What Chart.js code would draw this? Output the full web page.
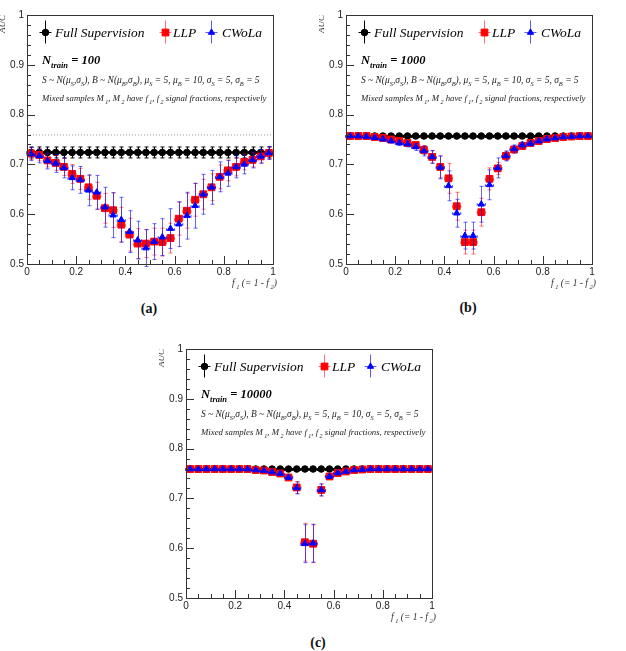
<!DOCTYPE html>
<html>
<head>
<meta charset="utf-8">
<script src="https://cdn.jsdelivr.net/npm/chart.js@4.4.0/dist/chart.umd.min.js"></script>
<style>
  body { margin: 0; background: #fff; }
  #page { position: relative; width: 626px; height: 651px; overflow: hidden; }
  .panel { position: absolute; width: 300px; height: 300px; }
  .cap { position: absolute; width: 60px; text-align: center; line-height: 16px;
         font: bold 14px 'Liberation Serif', 'DejaVu Serif', serif; color: #111; }
</style>
</head>
<body>
<div id="page">
  <div class="panel" style="left:0px;top:0px"><canvas id="chartA" width="300" height="300"></canvas></div>
  <div class="panel" style="left:319px;top:0px"><canvas id="chartB" width="300" height="300"></canvas></div>
  <div class="panel" style="left:159px;top:334px"><canvas id="chartC" width="300" height="300"></canvas></div>
  <div class="cap" style="left:119px;top:301px">(a)</div>
  <div class="cap" style="left:438px;top:300px">(b)</div>
  <div class="cap" style="left:288px;top:635px">(c)</div>
</div>
<script>
// f1 bin centres (30 bins)
const fCenters = [0.0167, 0.05, 0.0833, 0.1167, 0.15, 0.1833, 0.2167, 0.25, 0.2833, 0.3167,
  0.35, 0.3833, 0.4167, 0.45, 0.4833, 0.5167, 0.55, 0.5833, 0.6167, 0.65,
  0.6833, 0.7167, 0.75, 0.7833, 0.8167, 0.85, 0.8833, 0.9167, 0.95, 0.9833];
const binHalf = 0.0167;
const xTicks = [0, 0.2, 0.4, 0.6, 0.8, 1];
const yTicks = [0.5, 0.6, 0.7, 0.8, 0.9, 1];
const refX = [0, 1];
const refAuc = 0.759;

// (a) N_train = 100
const fullA = [0.724, 0.724, 0.724, 0.724, 0.724, 0.724, 0.724, 0.724, 0.724, 0.724,
  0.724, 0.724, 0.724, 0.724, 0.724, 0.724, 0.724, 0.724, 0.724, 0.724,
  0.724, 0.724, 0.724, 0.724, 0.724, 0.724, 0.724, 0.724, 0.724, 0.724];
const fullErrA = [0.011, 0.011, 0.011, 0.011, 0.011, 0.011, 0.011, 0.011, 0.011, 0.011,
  0.011, 0.011, 0.011, 0.011, 0.011, 0.011, 0.011, 0.011, 0.011, 0.011,
  0.011, 0.011, 0.011, 0.011, 0.011, 0.011, 0.011, 0.011, 0.011, 0.011];
const llpA = [0.722, 0.719, 0.708, 0.703, 0.695, 0.681, 0.671, 0.654, 0.637, 0.612,
  0.608, 0.579, 0.559, 0.541, 0.541, 0.545, 0.544, 0.552, 0.591, 0.607,
  0.629, 0.640, 0.654, 0.675, 0.688, 0.695, 0.705, 0.709, 0.716, 0.723];
const llpErrA = [0.012, 0.012, 0.013, 0.015, 0.017, 0.019, 0.021, 0.024, 0.027, 0.030,
  0.035, 0.035, 0.033, 0.030, 0.028, 0.027, 0.028, 0.030, 0.033, 0.035,
  0.033, 0.030, 0.027, 0.024, 0.021, 0.018, 0.016, 0.014, 0.012, 0.012];
const cwolaA = [0.721, 0.717, 0.707, 0.702, 0.693, 0.673, 0.669, 0.648, 0.644, 0.614,
  0.598, 0.589, 0.565, 0.548, 0.532, 0.545, 0.554, 0.571, 0.580, 0.597,
  0.617, 0.640, 0.654, 0.675, 0.682, 0.695, 0.700, 0.709, 0.716, 0.723];
const cwolaErrA = [0.013, 0.014, 0.016, 0.018, 0.020, 0.024, 0.027, 0.031, 0.034, 0.040,
  0.045, 0.045, 0.042, 0.038, 0.037, 0.036, 0.037, 0.040, 0.045, 0.047,
  0.045, 0.040, 0.034, 0.030, 0.026, 0.022, 0.019, 0.016, 0.014, 0.013];

// (b) N_train = 1000
const fullB = [0.757, 0.757, 0.757, 0.757, 0.757, 0.757, 0.757, 0.757, 0.757, 0.757,
  0.757, 0.757, 0.757, 0.757, 0.757, 0.757, 0.757, 0.757, 0.757, 0.757,
  0.757, 0.757, 0.757, 0.757, 0.757, 0.757, 0.757, 0.757, 0.757, 0.757];
const fullErrB = [0.002, 0.002, 0.002, 0.002, 0.002, 0.002, 0.002, 0.002, 0.002, 0.002,
  0.002, 0.002, 0.002, 0.002, 0.002, 0.002, 0.002, 0.002, 0.002, 0.002,
  0.002, 0.002, 0.002, 0.002, 0.002, 0.002, 0.002, 0.002, 0.002, 0.002];
const llpB = [0.757, 0.757, 0.757, 0.755, 0.753, 0.750, 0.747, 0.743, 0.739, 0.729,
  0.715, 0.695, 0.672, 0.616, 0.544, 0.544, 0.604, 0.671, 0.692, 0.717,
  0.730, 0.737, 0.743, 0.747, 0.751, 0.753, 0.755, 0.756, 0.757, 0.757];
const llpErrB = [0.002, 0.002, 0.002, 0.003, 0.003, 0.004, 0.004, 0.005, 0.006, 0.009,
  0.012, 0.022, 0.030, 0.028, 0.024, 0.024, 0.028, 0.022, 0.012, 0.009,
  0.007, 0.006, 0.005, 0.004, 0.004, 0.003, 0.003, 0.002, 0.002, 0.002];
const cwolaB = [0.757, 0.757, 0.756, 0.754, 0.751, 0.747, 0.743, 0.741, 0.735, 0.727,
  0.715, 0.694, 0.657, 0.602, 0.557, 0.557, 0.620, 0.659, 0.693, 0.717,
  0.731, 0.739, 0.742, 0.747, 0.751, 0.753, 0.755, 0.756, 0.757, 0.757];
const cwolaErrB = [0.002, 0.002, 0.003, 0.003, 0.004, 0.004, 0.005, 0.006, 0.007, 0.010,
  0.013, 0.023, 0.030, 0.028, 0.027, 0.027, 0.036, 0.030, 0.020, 0.010,
  0.008, 0.006, 0.005, 0.004, 0.004, 0.003, 0.003, 0.002, 0.002, 0.002];

// (c) N_train = 10000
const fullC = [0.759, 0.759, 0.759, 0.759, 0.759, 0.759, 0.759, 0.759, 0.759, 0.759,
  0.759, 0.759, 0.759, 0.759, 0.759, 0.759, 0.759, 0.759, 0.759, 0.759,
  0.759, 0.759, 0.759, 0.759, 0.759, 0.759, 0.759, 0.759, 0.759, 0.759];
const fullErrC = [0.001, 0.001, 0.001, 0.001, 0.001, 0.001, 0.001, 0.001, 0.001, 0.001,
  0.001, 0.001, 0.001, 0.001, 0.001, 0.001, 0.001, 0.001, 0.001, 0.001,
  0.001, 0.001, 0.001, 0.001, 0.001, 0.001, 0.001, 0.001, 0.001, 0.001];
const llpC = [0.759, 0.759, 0.759, 0.759, 0.759, 0.759, 0.759, 0.759, 0.757, 0.756,
  0.753, 0.750, 0.742, 0.722, 0.612, 0.609, 0.717, 0.744, 0.751, 0.754,
  0.757, 0.758, 0.759, 0.759, 0.759, 0.759, 0.759, 0.759, 0.759, 0.759];
const llpErrC = [0.002, 0.002, 0.002, 0.002, 0.002, 0.002, 0.002, 0.002, 0.002, 0.002,
  0.002, 0.003, 0.004, 0.012, 0.038, 0.038, 0.012, 0.004, 0.003, 0.002,
  0.002, 0.002, 0.002, 0.002, 0.002, 0.002, 0.002, 0.002, 0.002, 0.002];
const cwolaC = [0.759, 0.759, 0.759, 0.759, 0.759, 0.759, 0.759, 0.759, 0.757, 0.756,
  0.753, 0.750, 0.742, 0.721, 0.609, 0.610, 0.717, 0.744, 0.751, 0.754,
  0.757, 0.758, 0.759, 0.759, 0.759, 0.759, 0.759, 0.759, 0.759, 0.759];
const cwolaErrC = [0.002, 0.002, 0.002, 0.002, 0.002, 0.002, 0.002, 0.002, 0.002, 0.002,
  0.002, 0.003, 0.004, 0.012, 0.038, 0.038, 0.012, 0.004, 0.003, 0.002,
  0.002, 0.002, 0.002, 0.002, 0.002, 0.002, 0.002, 0.002, 0.002, 0.002];

const SERIF = "'Liberation Serif', 'DejaVu Serif', serif";
const RED = '#ff0000', BLUE = '#0000ff';

// draws text with subscripts; parts = [[text, isSub], ...]
function drawRich(ctx, x, y, parts, size, weight, measureOnly) {
  let cx = x;
  parts.forEach(([t, sub]) => {
    const s = sub ? size * 0.68 : size;
    ctx.font = `italic ${weight} ${s}px ${SERIF}`;
    if (!measureOnly) ctx.fillText(t, cx, sub ? y + size * 0.3 : y);
    cx += ctx.measureText(t).width;
  });
  return cx - x;
}
function drawFitted(ctx, x, y, parts, targetW) {
  const w = drawRich(ctx, 0, 0, parts, 10, 'normal', true);
  drawRich(ctx, x, y, parts, 10 * targetW / w, 'normal', false);
}

// vertical + horizontal error bars, drawn just before each dataset's markers
const errorBars = {
  id: 'errorBars',
  beforeDatasetDraw(chart, args) {
    const ds = chart.data.datasets[args.index];
    if (!ds.errY) return;
    const { ctx } = chart;
    const xs = chart.scales.x, ys = chart.scales.y;
    ctx.save();
    ctx.strokeStyle = ds.errColor;
    ctx.lineWidth = 1;
    ds.data.forEach((p, i) => {
      const px = Math.round(xs.getPixelForValue(p.x)) + 0.5;
      const py = Math.round(ys.getPixelForValue(p.y)) + 0.5;
      const x0 = xs.getPixelForValue(p.x - binHalf), x1 = xs.getPixelForValue(p.x + binHalf);
      const y0 = ys.getPixelForValue(p.y - ds.errY[i]), y1 = ys.getPixelForValue(p.y + ds.errY[i]);
      ctx.beginPath();
      ctx.moveTo(x0, py); ctx.lineTo(x1, py);
      ctx.moveTo(px, y0); ctx.lineTo(px, y1);
      ctx.moveTo(px - 2, y0); ctx.lineTo(px + 2, y0);
      ctx.moveTo(px - 2, y1); ctx.lineTo(px + 2, y1);
      ctx.moveTo(x0, py - 1.5); ctx.lineTo(x0, py + 1.5);
      ctx.moveTo(x1, py - 1.5); ctx.lineTo(x1, py + 1.5);
      ctx.stroke();
    });
    ctx.restore();
  }
};

// ROOT-like frame, inner ticks, legend and in-plot texts
const decor = {
  id: 'decor',
  afterDraw(chart) {
    const { ctx, chartArea: a } = chart;
    const xs = chart.scales.x, ys = chart.scales.y;
    const cfg = chart.options.plugins.decor;
    ctx.save();
    ctx.strokeStyle = '#333';
    ctx.lineWidth = 1;
    ctx.strokeRect(Math.round(a.left) + 0.5, Math.round(a.top) + 0.5,
      Math.round(a.right - a.left), Math.round(a.bottom - a.top));
    ctx.beginPath();
    for (let k = 0; k <= 25; k++) {
      const py = Math.round(ys.getPixelForValue(0.5 + k * 0.02)) + 0.5;
      const len = k % 5 === 0 ? 8 : 4;
      ctx.moveTo(a.left, py); ctx.lineTo(a.left + len, py);
    }
    for (let k = 0; k <= 20; k++) {
      const px = Math.round(xs.getPixelForValue(k * 0.05)) + 0.5;
      const len = k % 4 === 0 ? 8 : 4;
      ctx.moveTo(px, a.bottom); ctx.lineTo(px, a.bottom - len);
    }
    ctx.stroke();

    // legend
    const ly = a.top + 17;
    const entries = [
      { dx: 18, tx: 28, label: 'Full Supervision', col: '#000', bar: '#000', style: 'circle', r: 3.3 },
      { dx: 138, tx: 146, label: 'LLP', col: RED, bar: 'rgba(255,0,0,0.55)', style: 'rect', r: 4.8 },
      { dx: 184, tx: 195, label: 'CWoLa', col: BLUE, bar: 'rgba(0,0,255,0.65)', style: 'triangle', r: 3.6 }
    ];
    entries.forEach(e => {
      const mx = a.left + e.dx;
      ctx.strokeStyle = e.bar;
      ctx.beginPath();
      ctx.moveTo(mx + 0.5, ly - 11.5); ctx.lineTo(mx + 0.5, ly + 11.5);
      ctx.moveTo(mx - 5.5, ly + 0.5); ctx.lineTo(mx + 6.5, ly + 0.5);
      ctx.stroke();
      ctx.fillStyle = e.col;
      ctx.strokeStyle = e.col;
      Chart.helpers.drawPoint(ctx, { pointStyle: e.style, radius: e.r, borderWidth: 1, rotation: 0 }, mx + 0.5, ly + 0.5);
      ctx.fillStyle = '#000';
      ctx.textBaseline = 'alphabetic';
      ctx.textAlign = 'left';
      ctx.font = `italic 13.5px ${SERIF}`;
      ctx.fillText(e.label, a.left + e.tx, ly + 4.5);
    });

    // N_train and sample description
    ctx.fillStyle = '#000';
    drawRich(ctx, a.left + 15, a.top + 49, [['N', false], ['train', true], [' = ' + cfg.ntrain, false]], 12.5, 'bold', false);
    ctx.fillStyle = '#222';
    drawFitted(ctx, a.left + 15, a.top + 68, [
      ['S ~ N(\u03bc', false], ['S', true], [',\u03c3', false], ['S', true],
      ['), B ~ N(\u03bc', false], ['B', true], [',\u03c3', false], ['B', true],
      ['), \u03bc', false], ['S', true], [' = 5, \u03bc', false], ['B', true],
      [' = 10, \u03c3', false], ['S', true], [' = 5, \u03c3', false], ['B', true], [' = 5', false]
    ], 218);
    drawFitted(ctx, a.left + 15, a.top + 86, [
      ['Mixed samples M', false], [' 1', true], [', M', false], [' 2', true],
      [' have f', false], [' 1', true], [', f', false], [' 2', true],
      [' signal fractions, respectively', false]
    ], 225);

    // axis titles
    ctx.fillStyle = '#333';
    ctx.save();
    ctx.translate(a.left - 24, a.top);
    ctx.rotate(-Math.PI / 2);
    ctx.textAlign = 'right';
    ctx.textBaseline = 'middle';
    ctx.font = `italic 9px ${SERIF}`;
    ctx.fillText('AUC', 0, 0);
    ctx.restore();
    const xt = [['f', false], [' 1', true], [' (= 1 - f', false], [' 2', true], [')', false]];
    const w = drawRich(ctx, 0, 0, xt, 9.5, 'normal', true);
    drawRich(ctx, a.right + 4 - w, a.bottom + 22, xt, 9.5, 'normal', false);
    ctx.restore();
  }
};

function makePanel(id, ntrain, full, fullErr, llp, llpErr, cwola, cwolaErr) {
  const pts = vals => fCenters.map((f, i) => ({ x: f, y: vals[i] }));
  new Chart(document.getElementById(id), {
    type: 'scatter',
    data: {
      datasets: [
        {
          type: 'line', label: 'ref', data: refX.map(v => ({ x: v, y: refAuc })),
          borderColor: '#999', borderWidth: 1, borderDash: [1, 2], pointRadius: 0, order: 10
        },
        {
          label: 'Full Supervision', data: pts(full), errY: fullErr, errColor: '#000',
          pointStyle: 'circle', pointRadius: 3.3, backgroundColor: '#000', borderColor: '#000',
          pointBorderWidth: 1, order: 3
        },
        {
          label: 'LLP', data: pts(llp), errY: llpErr, errColor: 'rgba(255,0,0,0.55)',
          pointStyle: 'rect', pointRadius: 4.8, backgroundColor: RED, borderColor: RED,
          pointBorderWidth: 1, order: 2
        },
        {
          label: 'CWoLa', data: pts(cwola), errY: cwolaErr, errColor: 'rgba(0,0,255,0.6)',
          pointStyle: 'triangle', pointRadius: 3.6, backgroundColor: BLUE, borderColor: BLUE,
          pointBorderWidth: 1, order: 1
        }
      ]
    },
    options: {
      responsive: false,
      animation: false,
      events: [],
      layout: { padding: { top: 15, right: 27, left: 0, bottom: 0 } },
      plugins: {
        legend: { display: false },
        tooltip: { enabled: false },
        decor: { ntrain: ntrain }
      },
      scales: {
        x: {
          type: 'linear', min: 0, max: 1,
          afterFit: s => { s.height = 36; },
          afterBuildTicks: s => { s.ticks = xTicks.map(v => ({ value: v })); },
          grid: { display: false, drawTicks: false },
          border: { display: false },
          ticks: {
            padding: 2, maxRotation: 0, color: '#222',
            font: { family: "'Liberation Sans', Arial, sans-serif", size: 10 },
            callback: v => String(Number(v.toFixed(1)))
          }
        },
        y: {
          type: 'linear', min: 0.5, max: 1,
          afterFit: s => { s.width = 27; },
          afterBuildTicks: s => { s.ticks = yTicks.map(v => ({ value: v })); },
          grid: { display: false, drawTicks: false },
          border: { display: false },
          ticks: {
            padding: 3, color: '#222',
            font: { family: "'Liberation Sans', Arial, sans-serif", size: 10 },
            callback: v => String(Number(v.toFixed(1)))
          }
        }
      }
    },
    plugins: [errorBars, decor]
  });
}

makePanel('chartA', '100', fullA, fullErrA, llpA, llpErrA, cwolaA, cwolaErrA);
makePanel('chartB', '1000', fullB, fullErrB, llpB, llpErrB, cwolaB, cwolaErrB);
makePanel('chartC', '10000', fullC, fullErrC, llpC, llpErrC, cwolaC, cwolaErrC);
</script>
</body>
</html>
